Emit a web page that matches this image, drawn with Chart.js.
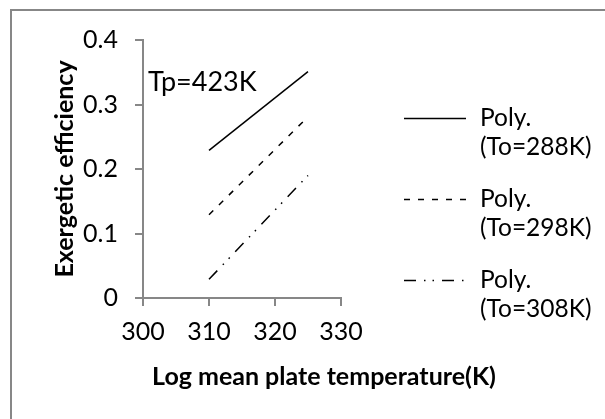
<!DOCTYPE html>
<html>
<head>
<meta charset="utf-8">
<script src="https://cdn.jsdelivr.net/npm/chart.js@4.4.1/dist/chart.umd.min.js"></script>
<style>
html, body { margin: 0; padding: 0; background: #fff; }
#wrap { position: relative; width: 605px; height: 419px; overflow: hidden; }
#frame { position: absolute; left: 10px; top: 9px; width: 640px; height: 440px; border: 2px solid #878787; }
#chart { position: absolute; left: 0; top: 0; }
</style>
</head>
<body>
<div id="wrap">
  <div id="frame"></div>
  <canvas id="chart" width="605" height="419"></canvas>
</div>
<script>
// values
const temps = [310, 325];
const eff_288 = [0.229, 0.351];
const eff_298 = [0.129, 0.281];
const eff_308 = [0.029, 0.19];
const legend_lines = [['Poly.', '(To=288K)'], ['Poly.', '(To=298K)'], ['Poly.', '(To=308K)']];
const x_title = 'Log mean plate temperature(K)';
const y_title = 'Exergetic efficiency';
const note_text = 'Tp=423K';

const axis_grey = '#878787';

function pts(ys) {
    return temps.map((t, i) => ({ x: t, y: ys[i] }));
}

// text and legend drawn the Excel way (legend entries on two lines)
const extras = {
    id: 'extras',
    afterDraw(chart) {
        const ctx = chart.ctx;
        ctx.save();
        ctx.fillStyle = '#000';
        ctx.textBaseline = 'middle';
        ctx.textAlign = 'left';
        ctx.font = '27px Lato';
        ctx.fillText(note_text, 148, 82);

        ctx.font = 'bold 25px Lato';
        ctx.textAlign = 'center';
        ctx.fillText(x_title, 324, 377);

        ctx.textAlign = 'left';
        ctx.font = '24.5px Lato';
        chart.data.datasets.forEach((ds, i) => {
            const y = 118.5 + i * 81;
            ctx.strokeStyle = ds.borderColor;
            ctx.lineWidth = ds.borderWidth;
            ctx.setLineDash(ds.borderDash || []);
            ctx.beginPath();
            ctx.moveTo(404, y);
            ctx.lineTo(466, y);
            ctx.stroke();
            ctx.fillText(legend_lines[i][0], 480, y);
            ctx.fillText(legend_lines[i][1], 480, y + 29);
        });
        ctx.restore();
    }
};

Chart.defaults.font.family = 'Lato';
Chart.defaults.color = '#000';

new Chart(document.getElementById('chart'), {
    type: 'line',
    data: {
        datasets: [
            {
                label: legend_lines[0].join(' '),
                data: pts(eff_288),
                borderColor: '#000',
                borderWidth: 1.5,
                pointRadius: 0
            },
            {
                label: legend_lines[1].join(' '),
                data: pts(eff_298),
                borderColor: '#000',
                borderWidth: 1.5,
                borderDash: [6, 8],
                pointRadius: 0
            },
            {
                label: legend_lines[2].join(' '),
                data: pts(eff_308),
                borderColor: '#000',
                borderWidth: 1.5,
                borderDash: [12, 8, 1.5, 7, 1.5, 8],
                pointRadius: 0
            }
        ]
    },
    options: {
        responsive: false,
        animation: false,
        layout: { padding: { left: 0, top: 40, right: 264, bottom: 0 } },
        plugins: {
            legend: { display: false },
            tooltip: { enabled: false }
        },
        scales: {
            x: {
                type: 'linear',
                min: 300,
                max: 330,
                ticks: { stepSize: 10, padding: 11, font: { size: 25 } },
                grid: { drawOnChartArea: false, tickLength: 8, color: axis_grey, lineWidth: 2 },
                border: { color: axis_grey, width: 2 },
                afterFit: (s) => { s.height = 121; }
            },
            y: {
                min: 0,
                max: 0.4,
                ticks: { stepSize: 0.1, padding: 17, font: { size: 25 } },
                grid: { drawOnChartArea: false, tickLength: 8, color: axis_grey, lineWidth: 2 },
                border: { color: axis_grey, width: 2 },
                title: {
                    display: true,
                    text: y_title,
                    font: { size: 25, weight: 'bold' },
                    padding: { top: 50, bottom: 0 }
                },
                afterFit: (s) => { s.width = 143; }
            }
        }
    },
    plugins: [extras]
});
</script>
</body>
</html>
